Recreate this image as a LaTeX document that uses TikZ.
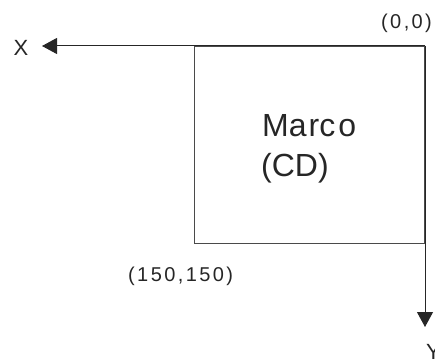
\documentclass[tikz,border=0pt]{standalone}
\usepackage{fontspec}
\setmainfont{Liberation Sans}
\newfontfamily\labelfont[LetterSpace=12]{Liberation Sans}
\usetikzlibrary{arrows.meta}
\definecolor{ink}{HTML}{262626}
\definecolor{edge}{HTML}{4A4A4A}
\tikzset{
  axis/.style={draw=ink, line width=1pt, -{Triangle[length=15pt,width=16pt]}},
  frame/.style={draw=edge, line width=1pt, rectangle, minimum width=230pt, minimum height=197pt, inner sep=0pt, anchor=north east},
  coordlabel/.style={text=ink, inner sep=0pt, anchor=base west, font=\labelfont\fontsize{20}{24}\selectfont},
  axislabel/.style={text=ink, inner sep=0pt, font=\fontsize{22}{26}\selectfont},
  title/.style={text=ink, inner sep=0pt, anchor=base west, font=\fontsize{32}{38}\selectfont},
}
\begin{document}
\begin{tikzpicture}[x=1pt, y=-1pt]
  \useasboundingbox (0,0) rectangle (435,358);
  % origin of the screen coordinates and the far ends of the axes
  \coordinate (o) at (425,46);
  \coordinate (xend) at (42,46);
  \coordinate (yend) at (425,327);
  % the frame
  \node[frame] (box) at (o) {};
  % axes
  \draw[axis] (o) -- (xend);
  \draw[axis] (o) -- (yend);
  % labels
  \node[axislabel, anchor=center] (xl) at (21,48) {X};
  \node[axislabel, anchor=base west] (yl) at (426,359) {Y};
  \node[coordlabel] (orig) at (381,29) {(0,0)};
  \node[coordlabel] (corner) at (128,281) {(150,150)};
  \node[title] (name) at (262,136) {Ma\kern2pt rc\kern3pt o};
  \node[title] (kind) at (261,176) {(CD)};
\end{tikzpicture}
\end{document}
